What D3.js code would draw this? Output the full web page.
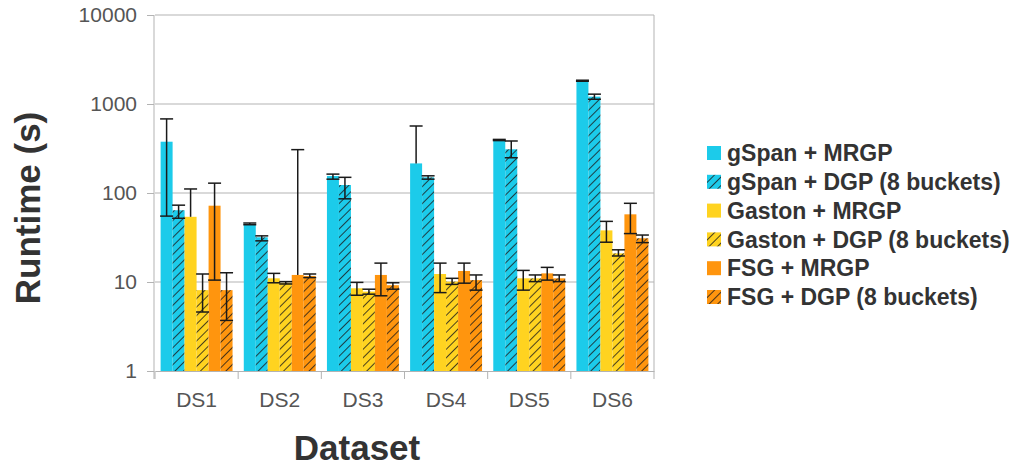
<!DOCTYPE html>
<html>
<head>
<meta charset="utf-8">
<script src="https://cdn.jsdelivr.net/npm/d3@7"></script>
<style>
  body { margin: 0; background: #fff; }
  text { font-family: "Liberation Sans", Arial, sans-serif; }
</style>
</head>
<body>
<svg id="chart" width="1014" height="470"></svg>
<script>
// datasets on the x axis
const datasets = ["DS1", "DS2", "DS3", "DS4", "DS5", "DS6"];
const yTicks = [1, 10, 100, 1000, 10000];

// series names (legend order)
const seriesNames = [
  "gSpan + MRGP", "gSpan + DGP (8 buckets)",
  "Gaston + MRGP", "Gaston + DGP (8 buckets)",
  "FSG + MRGP", "FSG + DGP (8 buckets)"
];

// runtime (s), and error bar low / high per dataset
const gspanMrgp    = [377, 45, 155, 215, 394, 1830];
const gspanMrgpLo  = [55, 44, 143, 215, 388, 1800];
const gspanMrgpHi  = [680, 46, 163, 566, 400, 1850];

const gspanDgp     = [64, 31.8, 123, 150, 310, 1210];
const gspanDgpLo   = [52, 29, 86, 143, 249, 1130];
const gspanDgpHi   = [73, 33, 150, 156, 384, 1290];

const gastonMrgp   = [54, 11, 8.5, 12.3, 11, 38];
const gastonMrgpLo = [54, 9.8, 7.1, 7.6, 8.1, 28];
const gastonMrgpHi = [111, 12.5, 9.9, 16.3, 13.5, 48];

const gastonDgp    = [8.1, 9.8, 7.8, 10.1, 11, 21];
const gastonDgpLo  = [4.6, 9.5, 7.3, 9.4, 10.1, 19.6];
const gastonDgpHi  = [12.3, 10.1, 8.3, 11, 12, 23];

const fsgMrgp      = [72, 12, 12, 13.3, 12.5, 57.6];
const fsgMrgpLo    = [10.5, 12, 7, 9.7, 10.5, 35];
const fsgMrgpHi    = [129, 307, 16.3, 16.3, 14.6, 76.6];

const fsgDgp       = [8.1, 11.7, 9.2, 10.5, 11, 31];
const fsgDgpLo     = [3.7, 11.2, 8.3, 8.1, 10.1, 27.7];
const fsgDgpHi     = [12.7, 12.3, 9.8, 12, 12, 33.7];

const seriesValues = [gspanMrgp, gspanDgp, gastonMrgp, gastonDgp, fsgMrgp, fsgDgp];
const seriesLo = [gspanMrgpLo, gspanDgpLo, gastonMrgpLo, gastonDgpLo, fsgMrgpLo, fsgDgpLo];
const seriesHi = [gspanMrgpHi, gspanDgpHi, gastonMrgpHi, gastonDgpHi, fsgMrgpHi, fsgDgpHi];
const seriesColors = ["#1ccbea", "#1ccbea", "#ffd320", "#ffd320", "#ff950e", "#ff950e"];
const seriesHatched = [false, true, false, true, false, true];

const margin = {top: 15, left: 155, right: 360, bottom: 99};
const width = 1014, height = 470;
const svg = d3.select("#chart");

// hatch patterns
const defs = svg.append("defs");
seriesNames.forEach(function(name, i) {
  if (!seriesHatched[i]) return;
  const p = defs.append("pattern")
    .attr("id", "hatch" + i)
    .attr("patternUnits", "userSpaceOnUse")
    .attr("width", 6).attr("height", 6)
    .attr("patternTransform", "rotate(45)");
  p.append("rect").attr("width", 6).attr("height", 6).attr("fill", seriesColors[i]);
  p.append("line").attr("x1", 0).attr("y1", 0).attr("x2", 0).attr("y2", 6)
    .attr("stroke", "#1a1a1a").attr("stroke-width", 1.6);
});
function fillFor(i) { return seriesHatched[i] ? "url(#hatch" + i + ")" : seriesColors[i]; }

const x0 = d3.scaleBand().domain(datasets).range([margin.left, width - margin.right]);
const groupW = x0.step() * 0.865;
const x1 = d3.scaleBand().domain(d3.range(seriesNames.length))
  .range([(x0.step() - groupW) / 2, (x0.step() + groupW) / 2]);
const y = d3.scaleLog().domain([1, 10000]).range([height - margin.bottom, margin.top]);

// grid lines
svg.append("g").selectAll("line").data(yTicks.slice(1)).join("line")
  .attr("x1", margin.left).attr("x2", width - margin.right)
  .attr("y1", d => y(d)).attr("y2", d => y(d))
  .attr("stroke", "#b3b3b3").attr("stroke-width", 1);
svg.append("line")
  .attr("x1", width - margin.right).attr("x2", width - margin.right)
  .attr("y1", margin.top).attr("y2", y(1))
  .attr("stroke", "#b3b3b3");

// bars
const groups = svg.append("g").selectAll("g").data(datasets).join("g")
  .attr("transform", d => "translate(" + x0(d) + ",0)");
groups.each(function(ds, di) {
  const g = d3.select(this);
  seriesNames.forEach(function(name, si) {
    g.append("rect")
      .attr("x", x1(si))
      .attr("width", x1.bandwidth())
      .attr("y", y(seriesValues[si][di]))
      .attr("height", y(1) - y(seriesValues[si][di]))
      .attr("fill", fillFor(si));
  });
  seriesNames.forEach(function(name, si) {
    const cx = x1(si) + x1.bandwidth() / 2;
    const lo = seriesLo[si][di], hi = seriesHi[si][di];
    const eb = g.append("g").attr("stroke", "#1a1a1a").attr("stroke-width", 1.5);
    eb.append("line").attr("x1", cx).attr("x2", cx).attr("y1", y(lo)).attr("y2", y(hi));
    eb.append("line").attr("x1", cx - 6.5).attr("x2", cx + 6.5).attr("y1", y(hi)).attr("y2", y(hi));
    if (lo < seriesValues[si][di])
      eb.append("line").attr("x1", cx - 6.5).attr("x2", cx + 6.5).attr("y1", y(lo)).attr("y2", y(lo));
  });
});

// axes
const yAxis = d3.axisLeft(y).tickValues(yTicks).tickFormat(d3.format("d")).tickSize(7).tickPadding(10);
const gy = svg.append("g").attr("transform", "translate(" + (margin.left - 1) + ",0)").call(yAxis);
gy.select(".domain").attr("stroke", "#b3b3b3").attr("d", "M0," + margin.top + "V" + (y(1) + 8));
gy.selectAll(".tick line").attr("stroke", "#b3b3b3");
gy.selectAll(".tick text").attr("fill", "#555").style("font-size", "21px")
  .style("font-family", "Liberation Sans, Arial, sans-serif");

const xAxis = d3.axisBottom(x0).tickSize(0).tickPadding(21);
const gx = svg.append("g").attr("transform", "translate(0," + y(1) + ")").call(xAxis);
gx.select(".domain").attr("stroke", "#b3b3b3");
gx.selectAll(".tick text").attr("fill", "#555").style("font-size", "21px")
  .style("font-family", "Liberation Sans, Arial, sans-serif");
// separators between categories
gx.append("g").selectAll("line").data(datasets.concat(["end"])).join("line")
  .attr("x1", (d, i) => margin.left + i * x0.step())
  .attr("x2", (d, i) => margin.left + i * x0.step())
  .attr("y1", 0).attr("y2", 8)
  .attr("stroke", "#b3b3b3");

// titles
svg.append("text")
  .attr("transform", "translate(40,208) rotate(-90)")
  .attr("text-anchor", "middle")
  .attr("fill", "#333").style("font-size", "35px").style("font-weight", "bold")
  .text("Runtime (s)");
svg.append("text")
  .attr("x", 357).attr("y", 460)
  .attr("text-anchor", "middle")
  .attr("fill", "#333").style("font-size", "35px").style("font-weight", "bold")
  .text("Dataset");

// legend
const legend = svg.append("g").attr("transform", "translate(707,153)");
const rows = legend.selectAll("g").data(seriesNames).join("g")
  .attr("transform", (d, i) => "translate(0," + i * 28.8 + ")");
rows.append("rect").attr("x", 0).attr("y", -7).attr("width", 14).attr("height", 14)
  .attr("fill", (d, i) => fillFor(i));
rows.append("text").attr("x", 20).attr("y", 0).attr("dy", "0.36em")
  .attr("fill", "#333").style("font-size", "23px").style("font-weight", "bold")
  .text(d => d);
</script>
</body>
</html>
